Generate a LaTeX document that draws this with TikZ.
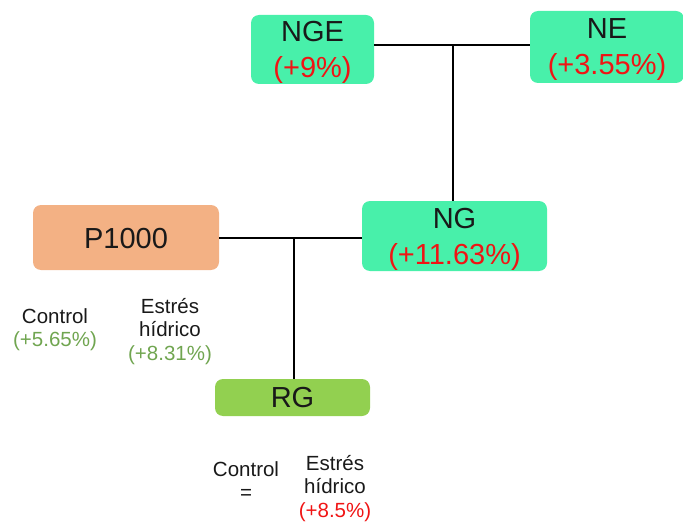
\documentclass[tikz,border=0pt]{standalone}
\usepackage{fontspec}
\setmainfont{Liberation Sans}
\definecolor{boxgreen}{RGB}{72,240,170}
\definecolor{boxorange}{RGB}{243,177,132}
\definecolor{boxlime}{RGB}{146,208,80}
\definecolor{txtred}{RGB}{240,20,20}
\definecolor{txtgreen}{RGB}{112,165,80}
\definecolor{txtdark}{RGB}{25,25,25}
\begin{document}
\begin{tikzpicture}[x=1pt,y=-1pt,
  box/.style={rounded corners=8pt,inner sep=0pt},
  boxtext/.style={inner sep=0pt,align=center,text=txtdark,
    font=\fontsize{29}{36}\selectfont},
  small/.style={inner sep=0pt,align=center,text=txtdark,
    font=\fontsize{20.5}{23.5}\selectfont},
  link/.style={line width=2pt,black}]
\useasboundingbox (0,0) rectangle (683,524);
\begin{scope}
\clip (0,0) rectangle (683,524);
\node[box,fill=boxgreen,minimum width=123pt,minimum height=69pt] (NGE) at (312.5,49.5) {};
\node[box,fill=boxgreen,minimum width=154pt,minimum height=72pt] (NE) at (607,47) {};
\end{scope}
\node[box,fill=boxgreen,minimum width=185pt,minimum height=70pt] (NG) at (454.5,236) {};
\node[box,fill=boxorange,minimum width=186pt,minimum height=65pt] (P) at (126,237.5) {};
\node[box,fill=boxlime,minimum width=155pt,minimum height=37pt] (RG) at (292.5,397.5) {};
\node[boxtext] (tNGE) at ([yshift=-3pt]NGE.center) {NGE\\\textcolor{txtred}{(+9\%)}};
\node[boxtext] (tNE) at ([yshift=-3pt]NE.center) {NE\\\textcolor{txtred}{(+3.55\%)}};
\node[boxtext] (tNG) at ([yshift=-3pt]NG.center) {NG\\\textcolor{txtred}{(+11.63\%)}};
\node[boxtext] (tP) at ([yshift=-1pt]P.center) {P1000};
\node[boxtext] (tRG) at (RG.center) {RG};
\coordinate (j1) at (453,45);
\coordinate (j2) at (294,238);
\draw[link] (NGE.east |- j1) -- (NE.west |- j1);
\draw[link] (j1) -- (NG.north -| j1);
\draw[link] (P.east |- j2) -- (NG.west |- j2);
\draw[link] (j2) -- (RG.north -| j2);
\node[small] (c1) at (55,329.5) {Control\\\textcolor{txtgreen}{(+5.65\%)}};
\node[small] (e1) at (170,331.5) {Estrés\\hídrico\\\textcolor{txtgreen}{(+8.31\%)}};
\node[small] (c2) at (246,480.5) {Control\\=};
\node[small] (e2) at (335,488.5) {Estrés\\hídrico\\\textcolor{txtred}{(+8.5\%)}};
\end{tikzpicture}
\end{document}
